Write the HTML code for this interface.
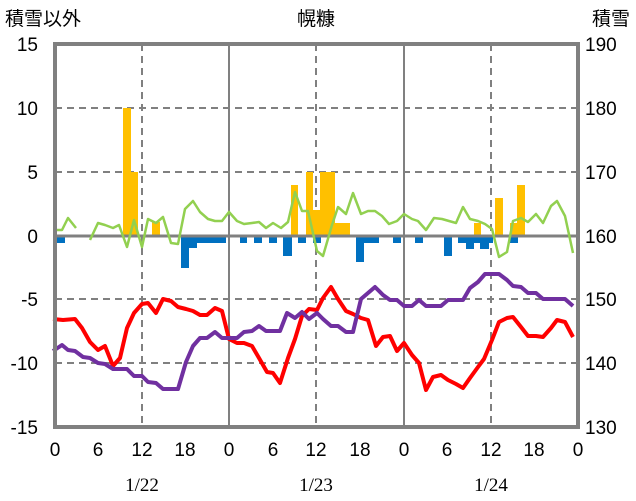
<!DOCTYPE html><html><head><meta charset="utf-8"><style>body{margin:0;background:#fff}svg{display:block}text{font-family:"Liberation Sans","Noto Sans CJK JP",sans-serif;font-size:19px;fill:#000}</style></head><body>
<svg width="636" height="501" xmlns="http://www.w3.org/2000/svg">
<g stroke="#808080" stroke-width="2" stroke-dasharray="7,5">
<line x1="55" y1="108" x2="578" y2="108"/><line x1="55" y1="172" x2="578" y2="172"/><line x1="55" y1="299" x2="578" y2="299"/><line x1="55" y1="363" x2="578" y2="363"/>
<line x1="142" y1="44" x2="142" y2="427"/><line x1="316" y1="44" x2="316" y2="427"/><line x1="491" y1="44" x2="491" y2="427"/>
</g>
<g stroke="#808080" stroke-width="2"><line x1="229" y1="44" x2="229" y2="427"/><line x1="404" y1="44" x2="404" y2="427"/></g>
<g fill="#FFC000">
<rect x="123" y="108" width="8" height="127"/><rect x="131" y="172" width="7" height="63"/><rect x="152" y="222" width="8" height="13"/>
<rect x="291" y="185" width="7" height="50"/><rect x="306" y="172" width="7" height="63"/><rect x="313" y="210" width="7" height="25"/>
<rect x="320" y="172" width="15" height="63"/><rect x="335" y="223" width="15" height="12"/><rect x="474" y="223" width="7" height="12"/>
<rect x="495" y="198" width="8" height="37"/><rect x="510" y="223" width="7" height="12"/><rect x="517" y="185" width="8" height="50"/>
</g>
<g fill="#0070C0">
<rect x="54" y="235" width="11" height="8"/><rect x="181" y="235" width="8" height="33"/><rect x="189" y="235" width="8" height="13"/><rect x="197" y="235" width="29" height="8"/>
<rect x="240" y="235" width="7" height="8"/><rect x="254" y="235" width="8" height="8"/><rect x="269" y="235" width="8" height="8"/><rect x="283" y="235" width="9" height="21"/>
<rect x="298" y="235" width="8" height="8"/><rect x="313" y="235" width="8" height="8"/><rect x="356" y="235" width="8" height="27"/><rect x="364" y="235" width="15" height="8"/>
<rect x="393" y="235" width="8" height="8"/><rect x="415" y="235" width="8" height="8"/><rect x="444" y="235" width="8" height="21"/><rect x="458" y="235" width="8" height="8"/>
<rect x="466" y="235" width="8" height="14"/><rect x="474" y="235" width="6" height="8"/><rect x="480" y="235" width="9" height="14"/><rect x="489" y="235" width="4" height="8"/><rect x="510" y="235" width="8" height="8"/>
</g>
<line x1="55" y1="236" x2="578" y2="236" stroke="#808080" stroke-width="3"/>
<g fill="none" stroke-width="2.5" stroke="#92D050" stroke-linejoin="round">
<polyline points="53,230 62,230 68,218 76,228"/>
<polyline points="90,240 98,223 105,225 113,228 119,225 127,247 134,220 142,247 148,219 156,223 163,217 171,243 178,244 185,209 193,201 200,212 208,219 215,221 222,221 229,212 237,221 244,224 252,223 259,222 266,228 273,223 281,228 288,222 295,192 302,211 308,211 317,251 323,256 332,225 338,207 346,214 353,193 361,214 368,211 375,211 382,216 389,224 397,221 404,214 412,219 418,221 426,230 434,218 442,219 449,221 456,223 463,207 470,219 478,221 485,224 492,229 499,257 507,252 513,221 521,218 528,222 536,214 543,223 551,206 557,201 565,216 573,253"/>
</g>
<polyline fill="none" stroke="#FF0000" stroke-width="4" stroke-linejoin="round" points="53,319 63,320 75,319 82,328 90,342 98,350 105,346 113,366 120,358 127,328 134,313 142,304 148,303 156,313 163,299 171,301 178,307 186,309 193,311 200,315 207,315 215,308 222,311 229,339 237,343 244,343 252,346 259,358 267,372 273,373 280,383 288,358 295,339 302,316 309,309 317,310 323,298 331,287 338,299 346,311 353,314 361,318 368,320 376,346 383,337 390,336 397,351 404,343 412,355 419,363 426,390 433,377 441,375 448,380 456,384 463,388 470,378 478,367 484,359 492,340 499,322 507,318 513,317 521,327 528,336 536,336 543,337 551,328 557,320 565,322 573,337"/>
<polyline fill="none" stroke="#7030A0" stroke-width="4" stroke-linejoin="round" points="53,351 62,345 68,350 75,351 83,357 90,358 98,363 105,364 113,369 127,369 134,376 142,376 148,382 156,383 163,389 178,389 186,362 193,346 200,338 207,338 215,332 222,338 237,338 244,332 252,331 259,326 266,331 280,331 287,313 295,318 302,312 309,319 317,313 323,319 331,326 338,326 346,332 353,332 361,299 368,293 375,287 383,295 390,300 397,300 404,306 412,306 419,300 426,306 441,306 448,300 463,300 470,288 478,282 485,274 499,274 507,280 513,286 521,287 528,293 536,293 543,299 565,299 573,306"/>
<rect x="55" y="44" width="523" height="383" fill="none" stroke="#808080" stroke-width="4"/>
<text x="5" y="25">積雪以外</text><text x="316" y="25" text-anchor="middle">幌糠</text><text x="630" y="25" text-anchor="end">積雪</text>
<g text-anchor="end"><text x="38" y="51">15</text><text x="38" y="115">10</text><text x="38" y="179">5</text><text x="38" y="243">0</text><text x="38" y="306">-5</text><text x="38" y="370">-10</text><text x="38" y="434">-15</text></g>
<g text-anchor="start"><text x="585" y="51">190</text><text x="585" y="115">180</text><text x="585" y="179">170</text><text x="585" y="243">160</text><text x="585" y="306">150</text><text x="585" y="370">140</text><text x="585" y="434">130</text></g>
<g text-anchor="middle"><text x="55" y="456">0</text><text x="98" y="456">6</text><text x="142" y="456">12</text><text x="185" y="456">18</text><text x="229" y="456">0</text><text x="273" y="456">6</text><text x="316" y="456">12</text><text x="360" y="456">18</text><text x="404" y="456">0</text><text x="447" y="456">6</text><text x="491" y="456">12</text><text x="534" y="456">18</text><text x="578" y="456">0</text>
<text x="142" y="491" style="font-family:'Liberation Serif',serif">1/22</text><text x="316" y="491" style="font-family:'Liberation Serif',serif">1/23</text><text x="491" y="491" style="font-family:'Liberation Serif',serif">1/24</text></g>
</svg></body></html>
